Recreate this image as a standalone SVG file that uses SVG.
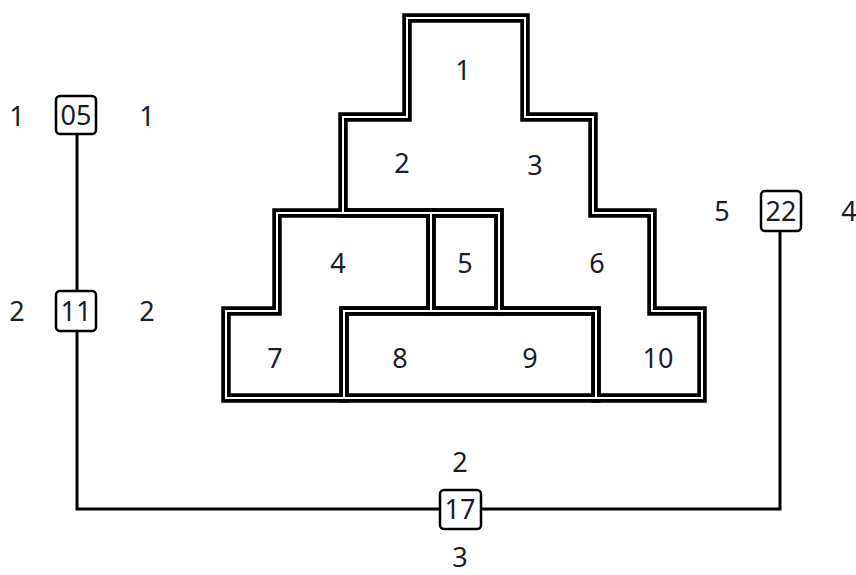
<svg xmlns="http://www.w3.org/2000/svg" width="856" height="575" viewBox="0 0 856 575">
  <style>
    .wall { fill: none; stroke: #000; stroke-width: 9.5; stroke-linejoin: miter; }
    .gap { fill: none; stroke: #fff; stroke-width: 2; stroke-linejoin: miter; }
    .lbl { font-family: "Noto Sans", "Open Sans", sans-serif; font-size: 27px; fill: #1c1c28; text-anchor: middle; }
    .box { fill: #fff; stroke: #000; stroke-width: 2.5; }
    .conn { fill: none; stroke: #000; stroke-width: 3; }
  </style>
  <defs>
    <path id="rA" d="M407,18 H525 V117 H593 V213 H652 V311 H702 V398 H596 V311 H499 V213 H343 V117 H407 Z"/>
    <path id="rB" d="M277,213 H431 V311 H344 V398 H226 V311 H277 Z"/>
    <path id="rC" d="M431,213 H499 V311 H431 Z"/>
    <path id="rD" d="M344,311 H596 V398 H344 Z"/>
  </defs>

  <g id="plan">
    <use href="#rA" class="wall"/>
    <use href="#rB" class="wall"/>
    <use href="#rC" class="wall"/>
    <use href="#rD" class="wall"/>
    <use href="#rA" class="gap"/>
    <use href="#rB" class="gap"/>
    <use href="#rC" class="gap"/>
    <use href="#rD" class="gap"/>
    <text class="lbl" x="463" y="80">1</text>
    <text class="lbl" x="402" y="173">2</text>
    <text class="lbl" x="535" y="175">3</text>
    <text class="lbl" x="338" y="273">4</text>
    <text class="lbl" x="465" y="273">5</text>
    <text class="lbl" x="597" y="273">6</text>
    <text class="lbl" x="275" y="368">7</text>
    <text class="lbl" x="400" y="368">8</text>
    <text class="lbl" x="530" y="368">9</text>
    <text class="lbl" x="658" y="368">10</text>
  </g>

  <g id="connectors">
    <path class="conn" d="M77,134 V290"/>
    <path class="conn" d="M77,332 V509 H440"/>
    <path class="conn" d="M482,509 H780 V232"/>
  </g>

  <g id="node-05">
    <rect class="box" x="56" y="96" width="40" height="38" rx="4"/>
    <text class="lbl" x="76" y="125">05</text>
    <text class="lbl" x="17" y="126">1</text>
    <text class="lbl" x="147" y="126">1</text>
  </g>
  <g id="node-11">
    <rect class="box" x="56" y="291" width="40" height="40" rx="4"/>
    <text class="lbl" x="76" y="321">11</text>
    <text class="lbl" x="17" y="321">2</text>
    <text class="lbl" x="147" y="321">2</text>
  </g>
  <g id="node-22">
    <rect class="box" x="761" y="191" width="40" height="40" rx="4"/>
    <text class="lbl" x="781" y="221">22</text>
    <text class="lbl" x="722" y="221">5</text>
    <text class="lbl" x="849" y="221">4</text>
  </g>
  <g id="node-17">
    <rect class="box" x="440" y="490" width="41" height="39" rx="4"/>
    <text class="lbl" x="460" y="519">17</text>
    <text class="lbl" x="460" y="472">2</text>
    <text class="lbl" x="460" y="567">3</text>
  </g>
</svg>
